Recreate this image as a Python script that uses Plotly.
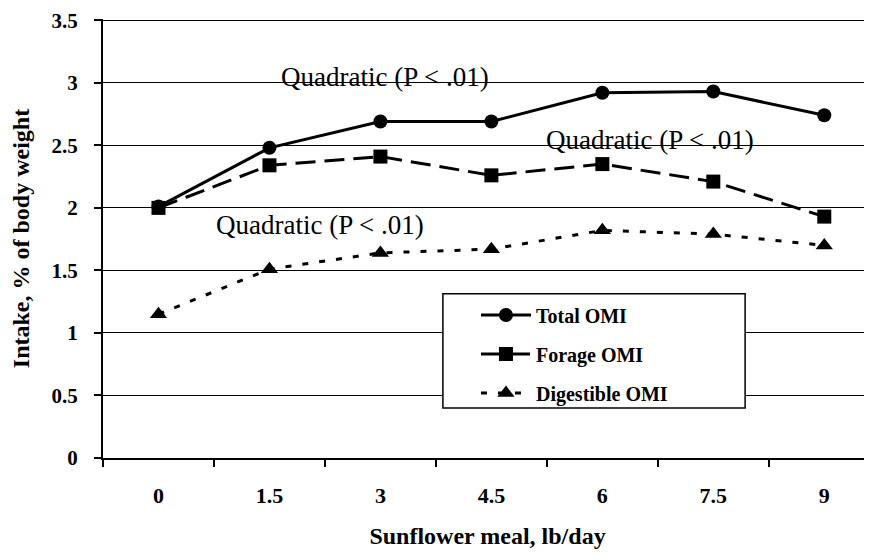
import plotly.graph_objects as go

categories = ["0", "1.5", "3", "4.5", "6", "7.5", "9"]
total_omi = [2.01, 2.48, 2.69, 2.69, 2.92, 2.93, 2.74]
forage_omi = [2.00, 2.34, 2.41, 2.26, 2.35, 2.21, 1.93]
digestible_omi = [1.15, 1.51, 1.64, 1.67, 1.82, 1.79, 1.70]
y_ticks = [0, 0.5, 1, 1.5, 2, 2.5, 3, 3.5]
y_tick_labels = ["0", "0.5", "1", "1.5", "2", "2.5", "3", "3.5"]

SERIF = "Liberation Serif, Times New Roman, serif"

fig = go.Figure()
fig.add_trace(go.Scatter(
    x=categories, y=total_omi, name="Total OMI", mode="lines+markers",
    line=dict(color="black", width=3), legendgroup="a",
    marker=dict(symbol="circle", size=14, color="black")))
fig.add_trace(go.Scatter(
    x=categories, y=forage_omi, name="Forage OMI", mode="lines+markers",
    line=dict(color="black", width=3, dash="20px,9px"), legendgroup="b",
    marker=dict(symbol="square", size=14, color="black")))
fig.add_trace(go.Scatter(
    x=categories, y=digestible_omi, name="Digestible OMI", mode="lines+markers",
    line=dict(color="black", width=3, dash="6px,11px"), legendgroup="c",
    marker=dict(symbol="triangle-up", size=15, color="black")))

# white gaps in the grid behind the labels
for (x0, x1, yc) in [(0.208, 0.519, 3.0), (0.558, 0.940, 2.5), (0.130, 0.436, 2.0)]:
    fig.add_shape(type="rect", xref="paper", yref="y", x0=x0, x1=x1,
                  y0=yc - 0.06, y1=yc + 0.06, fillcolor="white",
                  line=dict(width=0), layer="between")

# legend box
fig.add_shape(type="rect", xref="paper", yref="paper", x0=0.442, x1=0.835,
              y0=0.114, y1=0.374, fillcolor="white",
              line=dict(color="black", width=1.5), layer="above")

for (xp, yd) in [(0.367, 3.045), (0.711, 2.54), (0.282, 1.862)]:
    fig.add_annotation(text="Quadratic (P < .01)", xref="paper", yref="y",
                       x=xp, y=yd, xanchor="center", yanchor="middle",
                       showarrow=False,
                       font=dict(family=SERIF, size=27, color="black"))

fig.update_layout(
    width=872, height=555,
    margin=dict(l=95, r=8, t=11, b=105, autoexpand=False),
    paper_bgcolor="white", plot_bgcolor="white",
    font=dict(family=SERIF, color="black"),
    showlegend=True,
    legend=dict(x=0.485, xanchor="left", y=0.37, yanchor="top",
                bgcolor="rgba(0,0,0,0)", borderwidth=0,
                font=dict(family=SERIF, size=20, color="black", weight="bold"),
                tracegroupgap=10, itemwidth=50),
)
fig.update_xaxes(
    type="category", range=[-0.5, 6.43], tickson="boundaries", automargin=False,
    ticks="outside", ticklen=7, tickwidth=1.5, tickcolor="black",
    showline=True, linecolor="black", linewidth=2, showgrid=False,
    ticklabelstandoff=17,
    tickfont=dict(family=SERIF, size=22, color="black", weight="bold"),
    title=dict(text="Sunflower meal, lb/day", standoff=20,
               font=dict(family=SERIF, size=24, color="black", weight="bold")))
fig.update_yaxes(
    range=[0, 3.51], tickvals=y_ticks, ticktext=y_tick_labels, automargin=False,
    ticks="outside", ticklen=7, tickwidth=1.5, tickcolor="black",
    showline=True, linecolor="black", linewidth=2,
    showgrid=True, gridcolor="black", gridwidth=1.3, zeroline=False,
    ticklabelstandoff=12,
    tickfont=dict(family=SERIF, size=21, color="black", weight="bold"),
    title=dict(text="Intake, % of body weight", standoff=22,
               font=dict(family=SERIF, size=24, color="black", weight="bold")))

fig.write_html("out.html")
